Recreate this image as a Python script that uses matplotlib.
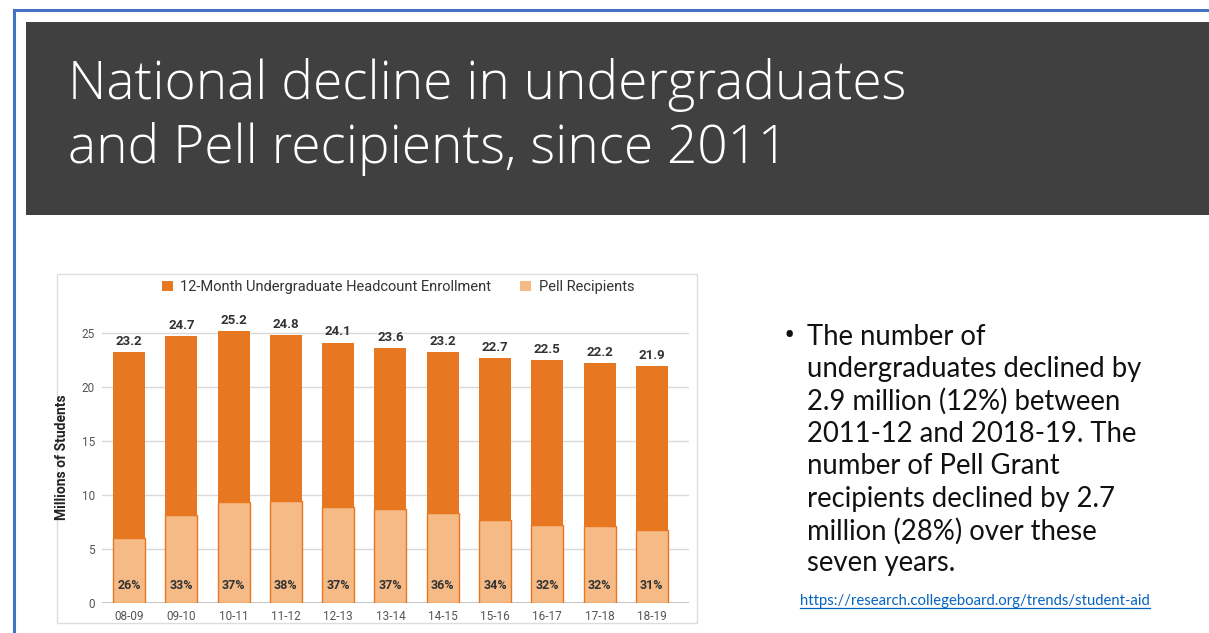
import matplotlib as mpl
mpl.use('Agg')
import matplotlib.pyplot as plt
from matplotlib.patches import Rectangle, Patch
from matplotlib.lines import Line2D

# enrollment (millions) and Pell share by academic year
years      = ['08-09', '09-10', '10-11', '11-12', '12-13', '13-14',
              '14-15', '15-16', '16-17', '17-18', '18-19']
enrollment = [23.2, 24.7, 25.2, 24.8, 24.1, 23.6, 23.2, 22.7, 22.5, 22.2, 21.9]
pell_pct   = [26, 33, 37, 38, 37, 37, 36, 34, 32, 32, 31]

title_lines  = ['National decline in undergraduates', 'and Pell recipients, since 2011']
bullet_lines = ['The number of',
                'undergraduates declined by',
                '2.9 million (12%) between',
                '2011-12 and 2018-19. The',
                'number of Pell Grant',
                'recipients declined by 2.7',
                'million (28%) over these',
                'seven years.']
source_url = 'https://research.collegeboard.org/trends/student-aid'

W, H = 1209, 633
ORANGE = '#E87722'
PEACH  = '#F5BA86'
DARK   = '#404040'


def fx(px):
    return px / W


def fy(py):
    return 1 - py / H


fig = plt.figure(figsize=(W / 100, H / 100), dpi=100)
fig.patch.set_facecolor('white')

# slide frame and title band
fig.add_artist(Line2D([fx(14), 1], [fy(10), fy(10)], color='#4472C4', lw=2.2))
fig.add_artist(Line2D([fx(14), fx(14)], [fy(10), 0], color='#4472C4', lw=2.2))
fig.add_artist(Rectangle((fx(26), fy(215)), 1 - fx(26), fy(22) - fy(215),
                         facecolor=DARK, edgecolor='none'))
for i, line in enumerate(title_lines):
    fig.text(fx(68), fy(85 + 64 * i), line, color='white', fontsize=38.3,
             family='Open Sans', fontweight='light', va='center', ha='left')

# chart panel border
fig.add_artist(Rectangle((fx(57), fy(623)), fx(697) - fx(57), fy(274) - fy(623),
                         facecolor='white', edgecolor='#DDDDDD', lw=1, zorder=0))

ymax = 27
ax = fig.add_axes([fx(102), fy(603), fx(689) - fx(102), (ymax * 10.8) / H])
ax.set_zorder(2)
ax.patch.set_visible(False)
x = list(range(len(years)))
pell = [e * p / 100 for e, p in zip(enrollment, pell_pct)]

ax.bar(x, enrollment, width=0.61, color=ORANGE, zorder=2)
ax.bar(x, pell, width=0.61, color=PEACH, edgecolor=ORANGE, linewidth=1.0, zorder=3)

for xi, e in zip(x, enrollment):
    ax.text(xi, e + 0.4, '%.1f' % e, ha='center', va='bottom', fontsize=9.5,
            fontweight='bold', color='#333333', family='Roboto')
for xi, p in zip(x, pell_pct):
    ax.text(xi, 1.65, '%d%%' % p, ha='center', va='center', fontsize=9,
            fontweight='bold', color='#333333', family='Roboto', zorder=4)

ax.set_xlim(-0.516, 10.71)
ax.set_ylim(0, ymax)
ax.set_yticks([0, 5, 10, 15, 20, 25])
ax.set_xticks(x)
ax.set_xticklabels(years)
ax.tick_params(length=0, labelsize=8.5, labelcolor='#555555', pad=5)
for lbl in ax.get_xticklabels() + ax.get_yticklabels():
    lbl.set_family('Roboto')
ax.grid(axis='y', color='#D9D9D9', lw=1, zorder=0)
ax.set_axisbelow(True)
for s in ax.spines.values():
    s.set_visible(False)
ax.axhline(0, color='#BBBBBB', lw=1.2, zorder=1)
ax.set_ylabel('Millions of Students', fontsize=10, fontweight='bold',
              family='Roboto', color='#222222', labelpad=9)

handles = [Patch(facecolor=ORANGE, edgecolor='none'),
           Patch(facecolor=PEACH, edgecolor='none')]
fig.legend(handles, ['12-Month Undergraduate Headcount Enrollment', 'Pell Recipients'],
           loc='center', bbox_to_anchor=(fx(398), fy(287)), ncol=2, frameon=False,
           handlelength=0.75, handleheight=0.75, handletextpad=0.5, columnspacing=2.0,
           prop={'family': 'Roboto', 'size': 10.5}, labelcolor='#333333')

# bullet text on the right
fig.text(fx(784), fy(337), '\u2022', fontsize=22, family='Open Sans',
         va='center', ha='left', color='#111111')
for i, line in enumerate(bullet_lines):
    fig.text(fx(807), fy(337 + 32.3 * i), line, fontsize=19.8, family='Lato',
             va='center', ha='left', color='#111111')

t = fig.text(fx(800), fy(601), source_url, fontsize=10.7, family='Lato',
             color='#0563C1', va='center', ha='left')
fig.canvas.draw()
bb = t.get_window_extent()
fig.add_artist(Line2D([bb.x0 / W, bb.x1 / W], [fy(608), fy(608)], color='#0563C1', lw=0.9))

fig.savefig('out.png', dpi=100)
